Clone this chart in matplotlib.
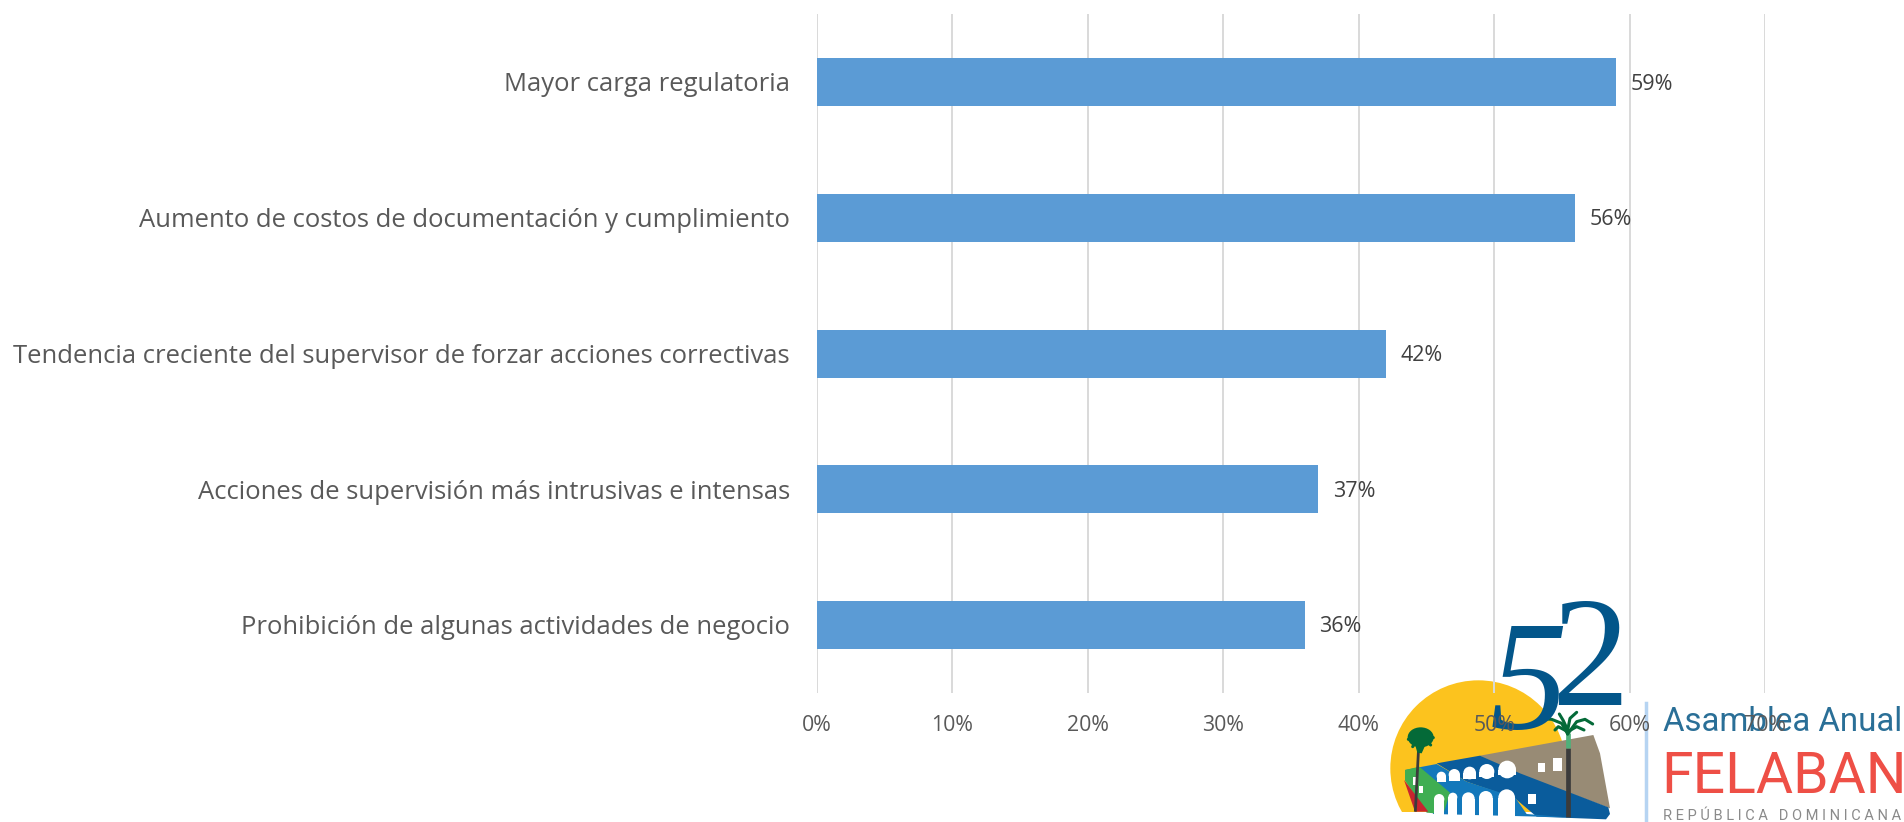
import matplotlib
matplotlib.use("Agg")
import matplotlib.pyplot as plt
from matplotlib.patches import Polygon, Ellipse, Circle
from matplotlib.transforms import ScaledTranslation

categories = ["Mayor carga regulatoria",
              "Aumento de costos de documentación y cumplimiento",
              "Tendencia creciente del supervisor de forzar acciones correctivas",
              "Acciones de supervisión más intrusivas e intensas",
              "Prohibición de algunas actividades de negocio"]
values = [59, 56, 42, 37, 36]
xticks = [0, 10, 20, 30, 40, 50, 60, 70]

W, H = 1904, 822
plt.rcParams['font.family'] = ['Open Sans', 'DejaVu Sans']
fig = plt.figure(figsize=(W/100, H/100), dpi=100)
ax = fig.add_axes([817/W, 1-693/H, (1765-817)/W, (693-14.5)/H], zorder=6)
ax.patch.set_alpha(0)
ax.barh(range(len(values)), values, height=0.354, color="#5B9BD5", zorder=3)
ax.set_ylim(len(values)-0.5, -0.5)
ax.set_xlim(0, 70)
ax.set_xticks(xticks)
ax.set_xticklabels([f"{t}%" for t in xticks], fontsize=15.3, color="#595959")
ax.set_yticks(range(len(values)))
ax.set_yticklabels(categories, fontsize=18.45, color="#595959", va="center_baseline")
ax.tick_params(axis='both', length=0)
ax.tick_params(axis='y', pad=19.5)
ax.tick_params(axis='x', pad=16)
up = ScaledTranslation(0, 0.3/72, fig.dpi_scale_trans)
for lab in ax.get_yticklabels():
    lab.set_transform(lab.get_transform() + up)
ax.grid(axis='x', color="#D9D9D9", linewidth=1.4, zorder=0)
for s in ax.spines.values():
    s.set_visible(False)
for i, v in enumerate(values):
    ax.annotate(f"{v}%", (v, i), xytext=(10.5, -1.3), textcoords="offset points", va="center",
                ha="left", fontsize=15.5, color="#404040", zorder=4)

# Logo overlay, in pixel coordinates of the figure
lg = fig.add_axes([0, 0, 1, 1], zorder=1)
lg.set_xlim(0, W); lg.set_ylim(H, 0); lg.axis('off')

def z(*pts):
    return [(1380 + x/3, 590 + y/3) for x, y in pts]

def poly(color, order, *pts):
    lg.add_patch(Polygon(z(*pts), closed=True, facecolor=color, edgecolor='none', zorder=order))

def stroke(color, lw, order, *pts):
    p = z(*pts)
    lg.plot([a for a, _ in p], [b for _, b in p], color=color, lw=lw, zorder=order,
            solid_capstyle='round', solid_joinstyle='round')

cx, cy = z((295, 535))[0]
lg.add_patch(Circle((cx, cy), 88, facecolor="#FCC31E", edgecolor='none', zorder=1))
poly("white", 1.5, (0, 665), (780, 665), (780, 700), (0, 700))
poly("white", 1.5, (560, 440), (700, 400), (760, 700), (560, 700))
poly("#988B75", 2, (300, 497), (640, 435), (660, 490), (690, 655), (410, 550))
poly("#0A5C9C", 2, (170, 520), (300, 497), (420, 550), (685, 652), (690, 672), (678, 688), (470, 680), (405, 625), (260, 575))
poly("#1378BB", 2.1, (75, 540), (170, 522), (260, 575), (405, 622), (440, 672), (560, 682), (160, 672))
poly("#3FAE52", 2.2, (75, 540), (118, 530), (210, 608), (190, 672), (140, 668), (75, 572))
poly("#C8242F", 2.3, (72, 570), (105, 665), (145, 665))

upper_arches = [(170, 198, 545, 575), (206, 240, 537, 572), (250, 288, 530, 568), (298, 343, 522, 562), (355, 408, 512, 555)]
lower_arches = [(162, 193, 612, 680), (205, 232, 608, 680), (246, 284, 607, 680), (297, 338, 603, 680), (355, 405, 598, 680)]
for x0, x1, t, b in upper_arches + lower_arches:
    w = x1 - x0
    top = t + w/2
    poly("white", 2.5, (x0, top), (x1, top), (x1, b), (x0, b))
    ex, ey = z(((x0+x1)/2, top))[0]
    lg.add_patch(Ellipse((ex, ey), w/3, w/3, facecolor="white", edgecolor='none', zorder=2.5))
for x0, y0, x1, y1 in [(473, 520, 495, 545), (518, 505, 545, 542), (443, 612, 468, 642), (100, 562, 108, 585), (118, 588, 128, 610)]:
    poly("white", 2.6, (x0, y0), (x1, y0), (x1, y1), (x0, y1))

# palms
(t0, t1) = z((116, 470), (106, 665))
lg.plot([t0[0], t1[0]], [t0[1], t1[1]], color="#3B3B3B", lw=2, zorder=3, solid_capstyle='butt')
(t0, t1) = z((563, 475), (563, 680))
lg.plot([t0[0], t1[0]], [t0[1], t1[1]], color="#3B3B3B", lw=3.4, zorder=3, solid_capstyle='butt')
(t0, t1) = z((563, 430), (563, 475))
lg.plot([t0[0], t1[0]], [t0[1], t1[1]], color="#4FB07A", lw=3.4, zorder=3, solid_capstyle='butt')
palm_green = "#046A38"
ex, ey = z((122, 442))[0]
lg.add_patch(Ellipse((ex, ey), 26, 20, facecolor=palm_green, edgecolor='none', zorder=3.1))
poly(palm_green, 3.1, (100, 445), (145, 445), (125, 490), (112, 488))
stroke(palm_green, 2.2, 3.2, (120, 430), (85, 448))
stroke(palm_green, 2.2, 3.2, (122, 430), (160, 443))
stroke(palm_green, 2.2, 3.2, (118, 440), (98, 470))
stroke(palm_green, 2.2, 3.2, (126, 440), (152, 465))
stroke(palm_green, 2.2, 3.2, (563, 432), (545, 400), (515, 388), (490, 386))
stroke(palm_green, 2.2, 3.2, (563, 432), (590, 395), (615, 388), (638, 402))
stroke(palm_green, 2.2, 3.2, (563, 420), (550, 392), (538, 372))
stroke(palm_green, 2.2, 3.2, (563, 420), (570, 385), (590, 367))
stroke(palm_green, 2.2, 3.2, (563, 425), (535, 410), (525, 420))
stroke(palm_green, 2.2, 3.2, (563, 425), (590, 410), (612, 420))

lg.text(1490, 728, "5", fontsize=112, family="Liberation Serif", style="italic", color="#03568A",
        ha="left", va="baseline", zorder=4)
lg.text(1551, 705, "2", fontsize=112, family="Liberation Serif", color="#03568A",
        ha="left", va="baseline", zorder=4)

# Text block of the logo
lg.plot([1646, 1646], [703, 822], color="#B6D4F2", lw=2.5, zorder=3)
lg.text(1663, 731, "Asamblea Anual", fontsize=23.8, family="Roboto", color="#2A6F97",
        va="baseline", ha="left", zorder=4)
lg.text(1661, 793, "FELABAN", fontsize=41, family="Roboto", color="#EE4F46",
        va="baseline", ha="left", zorder=4)
lg.text(1663, 816, "R E P Ú B L I C A   D O M I N I C A N A", fontsize=10.5, family="Roboto",
        color="#8A8A8A", va="center", ha="left", zorder=4)

fig.savefig("out.png", dpi=100, facecolor="white")
